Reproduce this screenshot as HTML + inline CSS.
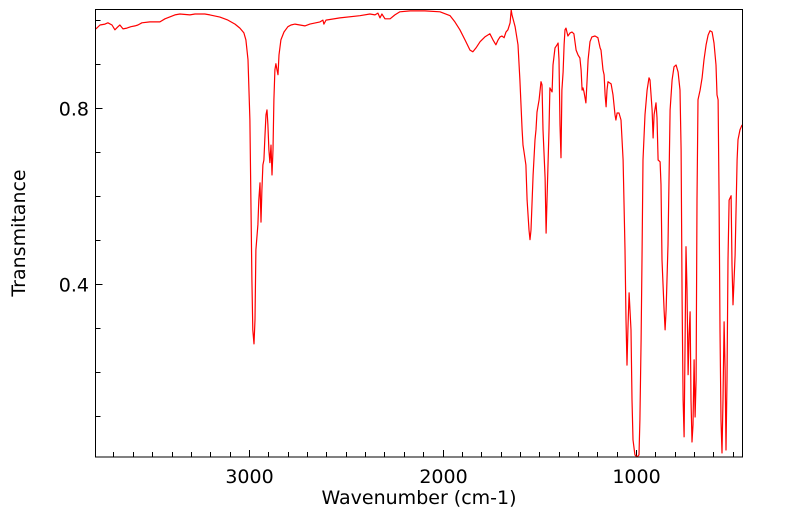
<!DOCTYPE html>
<html><head><meta charset="utf-8"><style>
body{margin:0;background:#fff;}
svg text{font-family:"DejaVu Sans","Liberation Sans",sans-serif;fill:#000;}
</style></head><body>
<svg id="chart" width="799" height="516" xmlns="http://www.w3.org/2000/svg">
<g id="axes"></g>
<path id="line" fill="none" stroke="#ff0000" stroke-width="1.2" stroke-linejoin="round"/>
<rect x="95.5" y="9.5" width="647" height="447.5" fill="none" stroke="#000" stroke-width="1"/>
<text x="419" y="504" font-size="19" text-anchor="middle">Wavenumber (cm-1)</text>
<text transform="translate(25,233) rotate(-90)" font-size="19" text-anchor="middle">Transmitance</text>
</svg>
<script>
const wavenumbers=[3791,3770,3744,3729,3708,3693,3677,3667,3651,3631,3610,3589,3574,3553,3512,3460,3434,3383,3357,3305,3279,3228,3202,3150,3109,3072,3047,3026,3016,3005,2995,2990,2985,2980,2974,2969,2964,2954,2949,2943,2938,2933,2928,2923,2917,2912,2907,2902,2897,2892,2886,2881,2876,2871,2866,2861,2855,2850,2845,2835,2819,2799,2783,2762,2737,2711,2685,2633,2618,2613,2602,2530,2427,2375,2349,2334,2323,2313,2297,2271,2246,2220,2168,2091,2013,1961,1936,1910,1884,1858,1843,1827,1806,1781,1755,1739,1724,1713,1703,1693,1682,1672,1662,1651,1645,1641,1625,1610,1600,1589,1584,1579,1569,1563,1553,1548,1543,1532,1522,1517,1512,1501,1491,1486,1481,1470,1465,1460,1450,1445,1434,1429,1419,1408,1403,1398,1393,1388,1383,1377,1372,1367,1362,1352,1341,1331,1321,1310,1300,1290,1284,1279,1274,1269,1259,1253,1248,1238,1228,1212,1197,1186,1181,1171,1165,1160,1155,1150,1145,1129,1119,1109,1104,1098,1088,1078,1067,1057,1052,1047,1042,1036,1026,1021,1016,1006,995,985,980,974,969,964,954,943,933,928,917,912,907,897,892,886,876,871,866,855,850,845,835,824,814,804,793,783,773,767,762,757,752,747,742,737,731,726,721,716,711,706,700,695,690,685,680,669,659,649,638,628,618,607,597,587,582,576,571,566,561,556,551,545,540,535,530,525,519,509,504,499,488,478,473,463,452];
const transmittance=[0.979,0.988,0.990,0.993,0.988,0.977,0.984,0.988,0.979,0.981,0.984,0.986,0.988,0.993,0.995,0.995,1.002,1.011,1.013,1.011,1.013,1.013,1.011,1.006,0.999,0.990,0.981,0.970,0.954,0.909,0.772,0.590,0.409,0.295,0.263,0.318,0.477,0.534,0.590,0.629,0.540,0.613,0.670,0.681,0.738,0.784,0.795,0.761,0.704,0.675,0.715,0.647,0.704,0.818,0.886,0.900,0.886,0.875,0.920,0.954,0.972,0.984,0.988,0.990,0.988,0.986,0.990,0.995,0.999,0.990,0.999,1.004,1.009,1.013,1.011,1.015,1.004,1.013,1.002,1.002,1.011,1.018,1.020,1.020,1.018,1.009,0.995,0.977,0.954,0.931,0.927,0.936,0.950,0.961,0.968,0.954,0.943,0.954,0.961,0.963,0.959,0.972,0.977,0.993,1.022,1.011,0.984,0.943,0.863,0.750,0.715,0.700,0.670,0.590,0.522,0.500,0.522,0.647,0.727,0.750,0.790,0.818,0.859,0.852,0.750,0.640,0.515,0.590,0.750,0.845,0.836,0.897,0.936,0.943,0.947,0.909,0.761,0.686,0.840,0.881,0.943,0.977,0.981,0.963,0.970,0.972,0.968,0.931,0.920,0.913,0.886,0.840,0.845,0.836,0.811,0.863,0.909,0.950,0.961,0.963,0.959,0.936,0.931,0.886,0.875,0.829,0.802,0.840,0.859,0.854,0.829,0.784,0.772,0.788,0.788,0.772,0.681,0.477,0.318,0.215,0.295,0.379,0.295,0.136,0.045,0.011,0.006,0.011,0.090,0.272,0.477,0.681,0.784,0.840,0.868,0.863,0.795,0.731,0.784,0.811,0.777,0.681,0.677,0.625,0.454,0.340,0.295,0.340,0.488,0.795,0.863,0.893,0.897,0.881,0.840,0.704,0.363,0.136,0.052,0.250,0.484,0.386,0.193,0.284,0.336,0.136,0.040,0.079,0.227,0.097,0.181,0.590,0.818,0.840,0.868,0.909,0.943,0.965,0.975,0.972,0.947,0.897,0.829,0.818,0.590,0.295,0.090,0.015,0.136,0.313,0.204,0.022,0.181,0.454,0.590,0.600,0.443,0.352,0.465,0.681,0.727,0.750,0.761];
const xMajorTicks=[3000,2000,1000];
const xMinorTicks=[3700,3600,3500,3400,3300,3200,3100,2900,2800,2700,2600,2500,2400,2300,2200,2100,1900,1800,1700,1600,1500,1400,1300,1200,1100,900,800,700,600,500];
const yMajorTicks=[0.4,0.8];
const yMinorTicks=[0.1,0.2,0.3,0.5,0.6,0.7,0.9,1.0];

const X0=95.5,X1=742.5,Y0=9.5,Y1=457;
const WN_L=3793,WN_R=450,T_TOP=1.0232,T_BOT=0.006;
function xs(w){return X0+(WN_L-w)/(WN_L-WN_R)*(X1-X0);}
function ys(t){return Y0+(T_TOP-t)/(T_TOP-T_BOT)*(Y1-Y0);}
function clampY(y){return Math.max(Y0,Math.min(Y1,y));}

let d='';
for(let i=0;i<wavenumbers.length;i++){
  d+=(i?'L':'M')+xs(wavenumbers[i]).toFixed(1)+','+clampY(ys(transmittance[i])).toFixed(1);
}
document.getElementById('line').setAttribute('d',d);

const NS='http://www.w3.org/2000/svg';
const axes=document.getElementById('axes');
function ln(x1,y1,x2,y2,name){
  const l=document.createElementNS(NS,'line');
  l.setAttribute('x1',x1);l.setAttribute('y1',y1);l.setAttribute('x2',x2);l.setAttribute('y2',y2);
  l.setAttribute('stroke','#000');l.setAttribute('stroke-width','1');
  
  
  axes.appendChild(l);
}
function tx(x,y,s,anchor,name){
  const t=document.createElementNS(NS,'text');
  t.setAttribute('x',x);t.setAttribute('y',y);t.setAttribute('font-size','19');t.setAttribute('text-anchor',anchor);
  t.textContent=s;
  
  
  axes.appendChild(t);
}
xMinorTicks.forEach(w=>{const x=Math.round(xs(w))+0.5;ln(x,Y1,x,Y1-5,'x-minor-tick');});
xMajorTicks.forEach(w=>{const x=Math.round(xs(w))+0.5;ln(x,Y1,x,Y1-7,'x-major-tick');tx(x,483,String(w),'middle','x-tick-label');});
yMinorTicks.forEach(t=>{const y=Math.round(ys(t))+0.5;ln(X0,y,X0+5,y,'y-minor-tick');});
yMajorTicks.forEach(t=>{const y=Math.round(ys(t))+0.5;ln(X0,y,X0+7,y,'y-major-tick');tx(89,y+7,t.toFixed(1),'end','y-tick-label');});
</script>
</body></html>
